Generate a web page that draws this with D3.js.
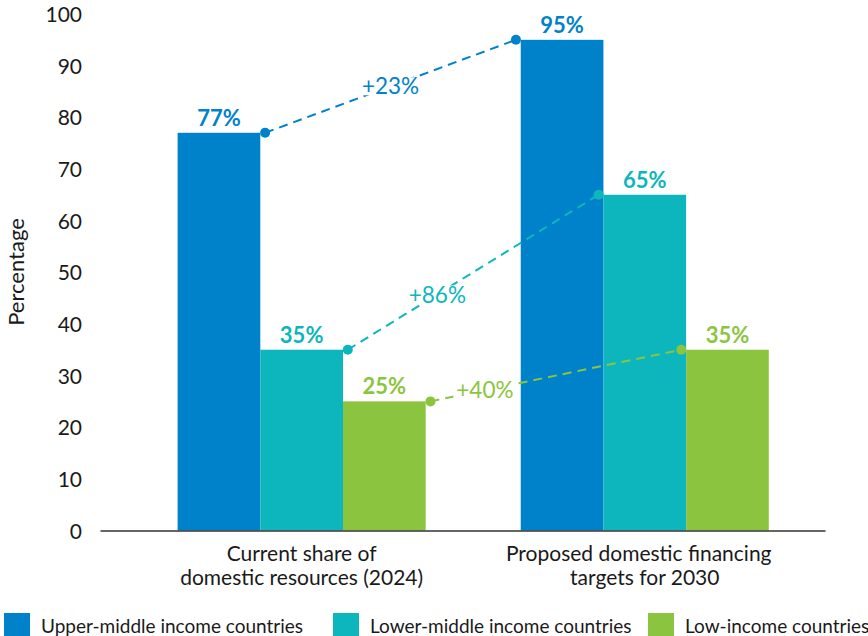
<!DOCTYPE html>
<html>
<head>
<meta charset="utf-8">
<script src="https://cdn.jsdelivr.net/npm/d3@7"></script>
<style>
  html, body { margin: 0; padding: 0; background: #fff; }
  svg { display: block; font-family: Lato, "Noto Sans", sans-serif; }
</style>
</head>
<body>
<svg id="chart" width="868" height="636"></svg>
<script>
// ---- data ----
const categories = ["Current share of domestic resources (2024)", "Proposed domestic financing targets for 2030"];
const categoryLines = [["Current share of", "domestic resources (2024)"], ["Proposed domestic financing", "targets for 2030"]];
const series = ["Upper-middle income countries", "Lower-middle income countries", "Low-income countries"];
const current2024 = [77, 35, 25];
const target2030 = [95, 65, 35];
const changeLabels = ["+23%", "+86%", "+40%"];
const yTicks = [0, 10, 20, 30, 40, 50, 60, 70, 80, 90, 100];

// ---- style / layout ----
const colors = ["#0082CA", "#0DB6BC", "#8BC540"];
const changeLabelPos = [0.5, 0.357, 0.217]; // fraction along the connector
const W = 868, H = 636;
const svg = d3.select("#chart");
const textColor = "#1a1a1a";

const x0 = d3.scaleBand().domain(categories).range([100, 825])
  .paddingInner(0.277).paddingOuter(0.195).align(0.58);
const x1 = d3.scaleBand().domain(series).range([0, x0.bandwidth()]);
const y = d3.scaleLinear().domain([0, 100]).range([530.5, 14]);
const color = d3.scaleOrdinal().domain(series).range(colors);

const values = [current2024, target2030];

// y tick labels
const yAxis = d3.axisLeft(y).tickValues(yTicks).tickSize(0).tickPadding(0);
const gy = svg.append("g").attr("transform", "translate(82,0)").call(yAxis);
gy.select(".domain").remove();
gy.selectAll("text").attr("font-size", 21).attr("fill", textColor)
  .attr("font-family", "Lato, 'Noto Sans', sans-serif").attr("dy", "0.36em");

// y title
svg.append("text")
  .attr("transform", `translate(24,272) rotate(-90)`)
  .attr("text-anchor", "middle").attr("font-size", 22).attr("fill", textColor)
  .text("Percentage");

// bars
const barData = [];
categories.forEach((c, ci) => series.forEach((s, si) => barData.push({c, s, v: values[ci][si], si})));
svg.append("g").selectAll("rect").data(barData).join("rect")
  .attr("x", d => x0(d.c) + x1(d.s))
  .attr("y", d => y(d.v))
  .attr("width", x1.bandwidth())
  .attr("height", d => y(0) - y(d.v))
  .attr("fill", d => color(d.s));

// x axis line
const xAxis = d3.axisBottom(x0).tickSize(0).tickFormat("");
const gx = svg.append("g").attr("transform", `translate(0,${y(0)})`).call(xAxis);
gx.select(".domain").attr("stroke", "#333").attr("stroke-width", 1.6);

// category labels
categories.forEach((c, ci) => {
  const t = svg.append("text").attr("text-anchor", "middle").attr("font-size", 21)
    .attr("fill", textColor);
  categoryLines[ci].forEach((ln, li) => {
    t.append("tspan").attr("x", x0(c) + x0.bandwidth() / 2 - (ci === 1 && li === 0 ? 6 : 0))
      .attr("y", 561 + li * 23.5).text(ln);
  });
});

// connectors
const off = 4.8;
series.forEach((s, si) => {
  const xa = x0(categories[0]) + x1(s) + x1.bandwidth() + off;
  const ya = y(current2024[si]);
  const xb = x0(categories[1]) + x1(s) - off;
  const yb = y(target2030[si]);
  const g = svg.append("g");
  g.append("line").attr("x1", xa).attr("y1", ya).attr("x2", xb).attr("y2", yb)
    .attr("stroke", colors[si]).attr("stroke-width", 2).attr("stroke-dasharray", "9,6");
  g.append("circle").attr("cx", xa).attr("cy", ya).attr("r", 5).attr("fill", colors[si]);
  g.append("circle").attr("cx", xb).attr("cy", yb).attr("r", 5).attr("fill", colors[si]);
  const t = changeLabelPos[si];
  const lx = xa + (xb - xa) * t, ly = ya + (yb - ya) * t;
  const txt = g.append("text").attr("x", lx).attr("y", ly).attr("dy", "0.36em")
    .attr("text-anchor", "middle").attr("font-size", 22.5).attr("fill", colors[si])
    .text(changeLabels[si]);
  const bb = txt.node().getBBox();
  g.insert("rect", "text").attr("x", bb.x - 3).attr("y", ly - 9).attr("width", bb.width + 6)
    .attr("height", 18).attr("fill", "#fff");
});

// value labels
svg.append("g").selectAll("text").data(barData).join("text")
  .attr("x", d => x0(d.c) + x1(d.s) + x1.bandwidth() / 2)
  .attr("y", d => y(d.v) - 7)
  .attr("text-anchor", "middle").attr("font-size", 22).attr("font-weight", 700)
  .attr("fill", d => color(d.s))
  .text(d => d.v + "%");

// legend
const legendX = d3.scaleOrdinal().domain(series).range([4, 333, 648]);
const lg = svg.append("g").selectAll("g").data(series).join("g")
  .attr("transform", d => `translate(${legendX(d)},613)`);
lg.append("rect").attr("width", 26).attr("height", 26).attr("fill", d => color(d));
lg.append("text").attr("x", 37).attr("y", 20).attr("font-size", 19).attr("fill", textColor)
  .text(d => d);
</script>
</body>
</html>
